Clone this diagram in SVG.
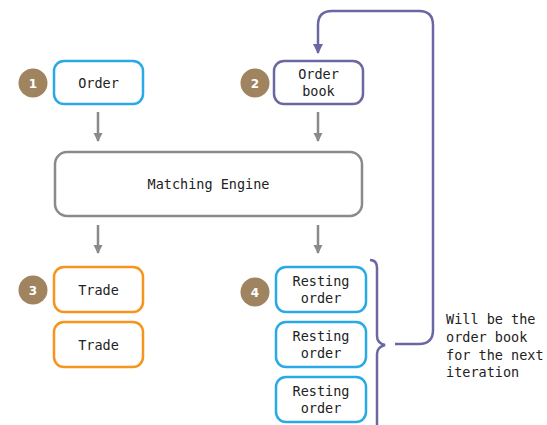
<svg xmlns="http://www.w3.org/2000/svg" width="547" height="425" viewBox="0 0 547 425">
<defs>
<marker id="ga" markerWidth="10" markerHeight="10" refX="8" refY="5" orient="auto" markerUnits="userSpaceOnUse">
<path d="M0,0.5 L9,5 L0,9.5 Z" fill="#8a8a8a"/>
</marker>
<marker id="pa" markerWidth="12" markerHeight="12" refX="9" refY="6" orient="auto" markerUnits="userSpaceOnUse">
<path d="M0,1 L10,6 L0,11 Z" fill="#6b67a3"/>
</marker>
</defs>
<style>
.box{fill:#fff;stroke-width:2.5}
.blue{stroke:#29aae6}
.purple{stroke:#6b67a3}
.orange{stroke:#f7941d}
.grey{stroke:#8a8a8a}
.t{font-family:"DejaVu Sans Mono","Liberation Mono",monospace;font-size:13.5px;fill:#222;text-anchor:middle}
.n{font-family:"DejaVu Sans","Liberation Sans",sans-serif;font-size:12px;font-weight:bold;fill:#fff;text-anchor:middle}
.c{fill:#a0845f}
.ln{fill:none;stroke:#8a8a8a;stroke-width:2.5}
.pl{fill:none;stroke:#6b67a3;stroke-width:2.5}
</style>
<rect width="547" height="425" fill="#fff"/>
<g id="connectors">
<line class="ln" x1="98" y1="112" x2="98" y2="141" marker-end="url(#ga)"/>
<line class="ln" x1="318" y1="112" x2="318" y2="141" marker-end="url(#ga)"/>
<line class="ln" x1="98" y1="225" x2="98" y2="253" marker-end="url(#ga)"/>
<line class="ln" x1="318" y1="225" x2="318" y2="253" marker-end="url(#ga)"/>
<path class="pl" d="M395,344 L419,344 Q433,344 433,330 L433,25 Q433,11 419,11 L332,11 Q318,11 318,25 L318,53" marker-end="url(#pa)"/>
<path class="pl" d="M370,260 Q377,260 377,268 L377,336 Q377,343 385,345 Q377,347 377,354 L377,425"/>
</g>
<g id="badge1"><circle class="c" cx="33" cy="83" r="14.5"/><text class="n" x="33" y="87.5">1</text></g>
<g id="badge2"><circle class="c" cx="255" cy="83" r="14.5"/><text class="n" x="255" y="87.5">2</text></g>
<g id="badge3"><circle class="c" cx="33" cy="290" r="14.5"/><text class="n" x="33" y="294.5">3</text></g>
<g id="badge4"><circle class="c" cx="255" cy="292" r="14.5"/><text class="n" x="255" y="296.5">4</text></g>
<g id="order"><rect class="box blue" x="54" y="61" width="89" height="43" rx="10"/><text class="t" x="98.5" y="87.5">Order</text></g>
<g id="orderbook"><rect class="box purple" x="274" y="61" width="89" height="43" rx="10"/><text class="t" x="318.5" y="79">Order</text><text class="t" x="318.5" y="96">book</text></g>
<g id="engine"><rect class="box grey" x="55" y="152" width="307" height="64" rx="12"/><text class="t" x="208.5" y="189">Matching Engine</text></g>
<g id="trade1"><rect class="box orange" x="54" y="267" width="89" height="45" rx="10"/><text class="t" x="98.5" y="294.5">Trade</text></g>
<g id="trade2"><rect class="box orange" x="54" y="322" width="89" height="45" rx="10"/><text class="t" x="98.5" y="349.5">Trade</text></g>
<g id="resting1"><rect class="box blue" x="276" y="267" width="90" height="45" rx="10"/><text class="t" x="321" y="286">Resting</text><text class="t" x="321" y="303">order</text></g>
<g id="resting2"><rect class="box blue" x="276" y="322" width="90" height="45" rx="10"/><text class="t" x="321" y="341">Resting</text><text class="t" x="321" y="358">order</text></g>
<g id="resting3"><rect class="box blue" x="276" y="377" width="90" height="45" rx="10"/><text class="t" x="321" y="396">Resting</text><text class="t" x="321" y="413">order</text></g>
<g id="note">
<text class="t" style="text-anchor:start" x="446" y="324">Will be the</text>
<text class="t" style="text-anchor:start" x="446" y="342">order book</text>
<text class="t" style="text-anchor:start" x="446" y="360">for the next</text>
<text class="t" style="text-anchor:start" x="446" y="377">iteration</text>
</g>
</svg>
